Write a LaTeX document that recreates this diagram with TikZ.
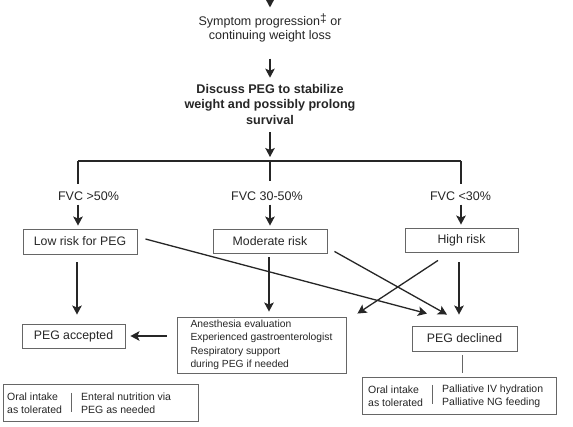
\documentclass[tikz,border=0pt]{standalone}
\usepackage{fontspec}
\setmainfont{Liberation Sans}
\usetikzlibrary{arrows.meta,calc}
\begin{document}
\begin{tikzpicture}[x=1pt,y=-1pt,
  every node/.style={text=black!85},
  txt/.style={inner sep=0pt, font=\fontsize{12.5}{14.5}\selectfont, align=center},
  box/.style={draw=black!60, line width=0.9pt, minimum height=24pt, inner sep=0pt, font=\fontsize{12.3}{14}\selectfont},
  small/.style={font=\fontsize{10.5}{13}\selectfont, align=left, inner sep=0pt},
  arr/.style={draw=black!85, line width=1.3pt, -{Stealth[length=9pt,width=9.5pt,inset=2pt]}},
  ln/.style={draw=black!85, line width=1.3pt},
  divl/.style={draw=black!60, line width=0.9pt},
  ]
\fill[white] (0,0) rectangle (573,427);
\useasboundingbox (0,0) rectangle (573,427);

% top
\coordinate (top) at (270,-10);
\node[txt] (sym) at (270,28) {Symptom progression\raisebox{3pt}{\fontsize{12}{12}\selectfont ‡} or\\continuing weight loss};
\node[txt, font=\bfseries\fontsize{12.6}{15.5}\selectfont] (disc) at (270,104) {Discuss PEG to stabilize\\weight and possibly prolong\\survival};
\draw[arr, shorten >=6pt] (top) -- (sym);
\draw[arr, shorten <=16pt, shorten >=6pt] (sym) -- (disc);

% bar
\coordinate (bC) at (270,161);
\coordinate (bL) at (78,161);
\coordinate (bR) at (461,161);
\draw[arr, shorten <=8pt, shorten >=4pt] (disc) -- (bC);
\draw[ln, line width=1.8pt] (bL) -- (bR);

\node[txt] (fL) at (88.5,196) {FVC >50\%};
\node[txt] (fC) at (267,196) {FVC 30-50\%};
\node[txt] (fR) at (460.5,196) {FVC <30\%};
\draw[ln, shorten >=7pt] (bL) -- (bL |- fL.north);
\draw[ln, shorten >=10pt] (bC) -- (bC |- fC.north);
\draw[ln, shorten >=7pt] (bR) -- (bR |- fR.north);

% risk boxes
\node[box, minimum width=114pt, minimum height=25pt] (low) at (80,241.5) {Low risk for PEG};
\node[box, minimum width=114pt] (mod) at (270,241) {Moderate risk};
\node[box, minimum width=113pt] (high) at (461.5,240) {High risk};

\draw[arr, shorten <=4pt, shorten >=3pt] (bL |- fL.south) -- (bL |- low.north);
\draw[arr, shorten <=4pt, shorten >=3pt] (bC |- fC.south) -- (bC |- mod.north);
\draw[arr, shorten <=4pt, shorten >=3pt] (bR |- fR.south) -- (bR |- high.north);

% outcome boxes
\node[box, minimum width=103pt] (acc) at (73.5,336) {PEG accepted};
\node[box, minimum width=105pt, minimum height=25pt] (dec) at (464.5,338.5) {PEG declined};
\node[box, align=left, font=\fontsize{10.3}{13.4}\selectfont, minimum width=169pt, minimum height=56pt] (anes) at (261.5,345)
  {Anesthesia evaluation\\Experienced gastroenterologist\\Respiratory support\\during PEG if needed};

% bottom boxes
\node[box, minimum width=195pt, minimum height=37pt] (botL) at (100.5,402.5) {};
\node[small, anchor=west] (botL1) at (7,403) {Oral intake\\as tolerated};
\node[small, anchor=west] (botL2) at (81,403) {Enteral nutrition via\\PEG as needed};
\draw[divl] (71,393) -- (71,412);

\node[box, minimum width=194pt, minimum height=37pt] (botR) at (459,395.5) {};
\node[small, anchor=west] (botR1) at (368,396) {Oral intake\\as tolerated};
\node[small, anchor=west] (botR2) at (442,396) {Palliative IV hydration\\Palliative NG feeding};
\draw[divl] (432,385) -- (432,404);

% connectors
\draw[arr, shorten <=8pt, shorten >=9pt] ([xshift=-3pt]low.south) -- ([xshift=3.5pt]acc.north);
\draw[arr, shorten <=4pt, shorten >=5pt] ([xshift=-1pt]mod.south) -- ([xshift=7.5pt]anes.north);
\draw[arr, shorten <=10pt, shorten >=5pt] (anes.west |- acc.east) -- (acc.east);
\draw[arr] ($(low.east)+(8,-2.5)$) -- ($(dec.north)+(-37.5,-12)$);
\draw[arr] ($(mod.south east)+(7,-2)$) -- ($(dec.north)+(-17.5,-11)$);
\draw[arr] ($(high.south)+(-23.5,8)$) -- ($(anes.north east)+(11,-3)$);
\draw[arr, shorten <=10pt, shorten >=11pt] ([xshift=-2.5pt]high.south) -- ([xshift=-5.5pt]dec.north);
\draw[divl, shorten <=4pt, shorten >=4pt] ([xshift=-2.5pt]dec.south) -- ([xshift=3pt]botR.north);
\end{tikzpicture}
\end{document}
